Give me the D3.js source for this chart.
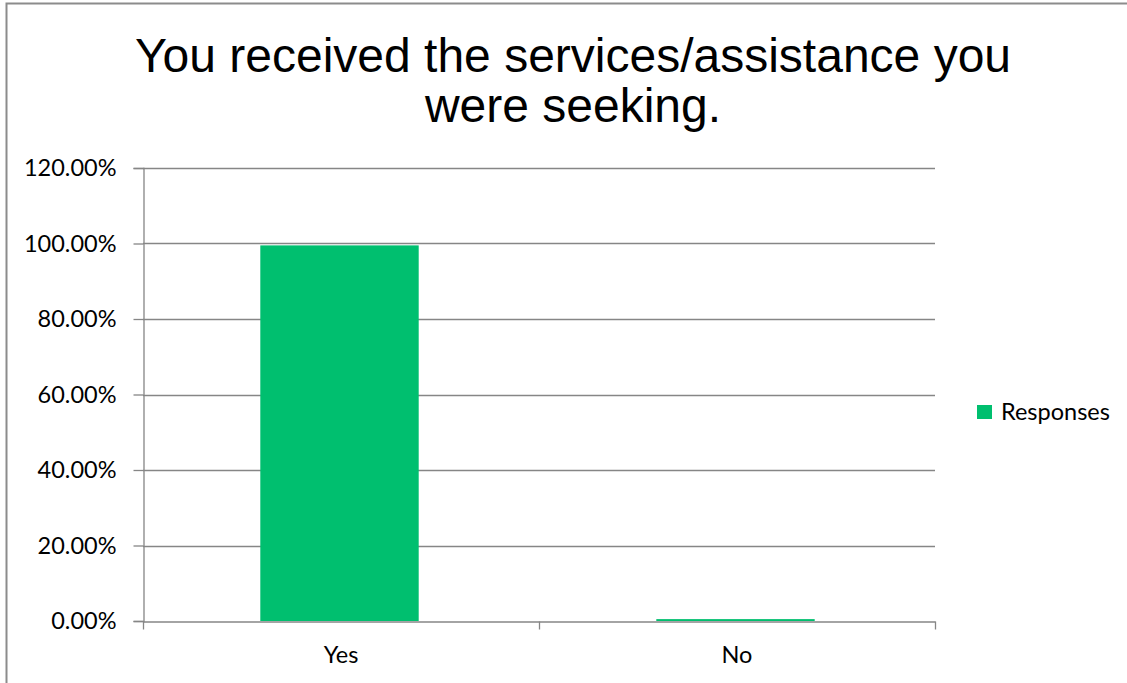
<!DOCTYPE html>
<html>
<head>
<meta charset="utf-8">
<script src="https://cdn.jsdelivr.net/npm/d3@7"></script>
<style>
  html, body { margin: 0; padding: 0; background: #fff; }
  svg { display: block; }
</style>
</head>
<body>
<svg id="chart" width="1127" height="683"></svg>
<script>
// Survey answers: share of respondents per choice
const categories = ["Yes", "No"];
const responses = [0.995, 0.005];
const yTicks = [0, 0.2, 0.4, 0.6, 0.8, 1.0, 1.2];
const seriesName = "Responses";
const titleLines = ["You received the services/assistance you", "were seeking."];

const svg = d3.select("#chart");
const W = 1127, H = 683;
const plot = { left: 143, right: 935, top: 168, bottom: 621 };
const gridColor = "#868686";
const barColor = "#00bf6f";
const labelFont = "Lato, 'Open Sans', sans-serif";
const labelSize = 23.5;

// Chart frame
svg.append("rect")
  .attr("x", 6.5).attr("y", 3.5)
  .attr("width", W + 10).attr("height", H + 10)
  .attr("fill", "#fff")
  .attr("stroke", "#8c8c8c").attr("stroke-width", 2);

// Title
const title = svg.append("text")
  .attr("text-anchor", "middle")
  .attr("font-family", "'Liberation Sans', Arial, sans-serif")
  .attr("font-size", 48)
  .attr("fill", "#000");
titleLines.forEach((line, i) => {
  title.append("tspan").attr("x", 573).attr("y", 72 + i * 50).text(line);
});

const x = d3.scaleBand().domain(categories).range([plot.left, plot.right]).paddingInner(0.6).paddingOuter(0.3);
const y = d3.scaleLinear().domain([0, 1.2]).range([plot.bottom, plot.top]);

// Horizontal gridlines
svg.append("g").selectAll("line")
  .data(yTicks.filter(t => t > 0))
  .join("line")
  .attr("x1", plot.left).attr("x2", plot.right)
  .attr("y1", d => Math.round(y(d)) + 0.5).attr("y2", d => Math.round(y(d)) + 0.5)
  .attr("stroke", gridColor).attr("stroke-width", 1.3);

// Bars
svg.append("g").selectAll("rect")
  .data(categories.map((c, i) => ({ c, v: responses[i] })))
  .join("rect")
  .attr("x", d => x(d.c) - 1.5)
  .attr("width", x.bandwidth())
  .attr("y", d => y(d.v))
  .attr("height", d => y(0) - y(d.v))
  .attr("fill", barColor);

// Y axis
const yAxis = svg.append("g")
  .attr("transform", `translate(${plot.left + 0.5},0)`)
  .call(d3.axisLeft(y).tickValues(yTicks).tickFormat(d3.format(".2%")).tickSize(10).tickPadding(17));
yAxis.select(".domain").attr("stroke", gridColor).attr("stroke-width", 1.3);
yAxis.selectAll(".tick line").attr("stroke", gridColor).attr("stroke-width", 1.3);
yAxis.selectAll(".tick text")
  .attr("font-family", labelFont).attr("font-size", labelSize).attr("fill", "#000");

// X axis
const bandOuter = d3.scaleBand().domain(categories).range([plot.left, plot.right]);
const xAxis = svg.append("g")
  .attr("transform", `translate(0,${plot.bottom + 0.5})`)
  .call(d3.axisBottom(x).tickSize(0).tickPadding(25).tickSizeOuter(0));
xAxis.select(".domain").attr("stroke", gridColor).attr("stroke-width", 1.3);
xAxis.selectAll(".tick text")
  .attr("font-family", labelFont).attr("font-size", labelSize).attr("fill", "#000");
// Category boundary ticks
xAxis.append("g").selectAll("line")
  .data([...categories.map(c => bandOuter(c)), plot.right])
  .join("line")
  .attr("x1", d => Math.round(d) + 0.5).attr("x2", d => Math.round(d) + 0.5)
  .attr("y1", 0).attr("y2", 8)
  .attr("stroke", gridColor).attr("stroke-width", 1.3);

// Legend
const legend = svg.append("g").attr("transform", "translate(977,405)");
legend.append("rect").attr("width", 15).attr("height", 14).attr("fill", barColor);
legend.append("text")
  .attr("x", 24).attr("y", 15)
  .attr("font-family", labelFont).attr("font-size", labelSize).attr("fill", "#000")
  .text(seriesName);
</script>
</body>
</html>
